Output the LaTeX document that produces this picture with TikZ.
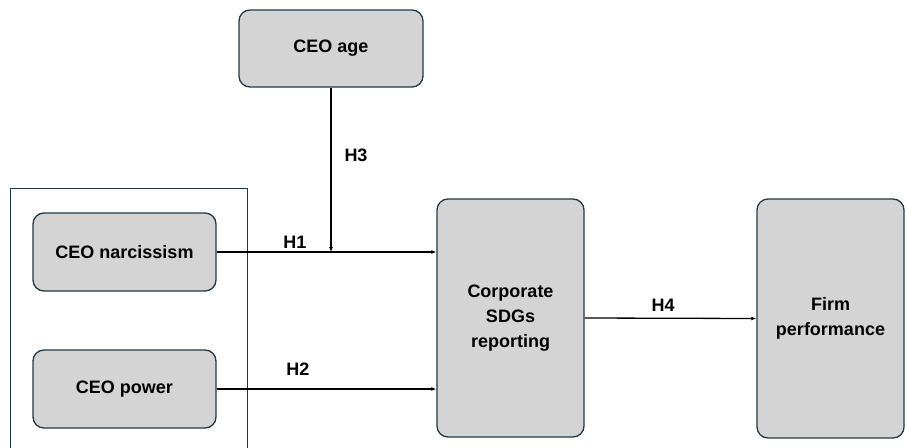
\documentclass[tikz,border=0pt]{standalone}
\usepackage{fontspec}
\setmainfont{Liberation Sans}
\usetikzlibrary{arrows.meta}
\definecolor{edgeblue}{HTML}{223849}
\definecolor{boxgray}{HTML}{D4D4D4}
\tikzset{
  varbox/.style={draw=edgeblue, line width=1.3pt, fill=boxgray, rounded corners=11pt, inner sep=0pt,
    font=\fontsize{18}{25}\selectfont\bfseries, align=center},
  conn/.style={-{Latex[length=5pt,width=4pt]}, line width=1.3pt, black},
  hlab/.style={font=\fontsize{18}{21}\selectfont\bfseries, inner sep=0pt},
}
\begin{document}
\begin{tikzpicture}[x=1pt,y=-1pt]
\useasboundingbox (0,0) rectangle (907,447);
\node[draw=edgeblue, line width=1.2pt, minimum width=237pt, minimum height=270pt, anchor=north west, inner sep=0pt] (outer) at (10,188) {};
\node[varbox, minimum width=184pt, minimum height=77pt] (age) at (331,48.5) {CEO age};
\node[varbox, minimum width=183pt, minimum height=78pt] (narc) at (124.5,252) {CEO narcissism};
\node[varbox, minimum width=183pt, minimum height=78pt] (power) at (124.5,389) {CEO power};
\node[varbox, minimum width=147pt, minimum height=238pt] (sdg) at (510.5,318) {Corporate\\SDGs\\reporting};
\node[varbox, minimum width=147pt, minimum height=239pt] (firm) at (830.5,318.5) {Firm\\performance};
\coordinate (mod) at (age.south |- narc.east);
\draw[conn] (narc.east) -- (narc.east -| sdg.west);
\draw[conn] (power.east) -- (power.east -| sdg.west);
\draw[conn] (age.south) -- (mod);
\draw[conn] (sdg.east) -- (firm.west);
\node[hlab] (h1) at (295,242) {H1};
\node[hlab] (h2) at (298,369) {H2};
\node[hlab] (h3) at (356,155) {H3};
\node[hlab] (h4) at (663,305) {H4};
\end{tikzpicture}
\end{document}
